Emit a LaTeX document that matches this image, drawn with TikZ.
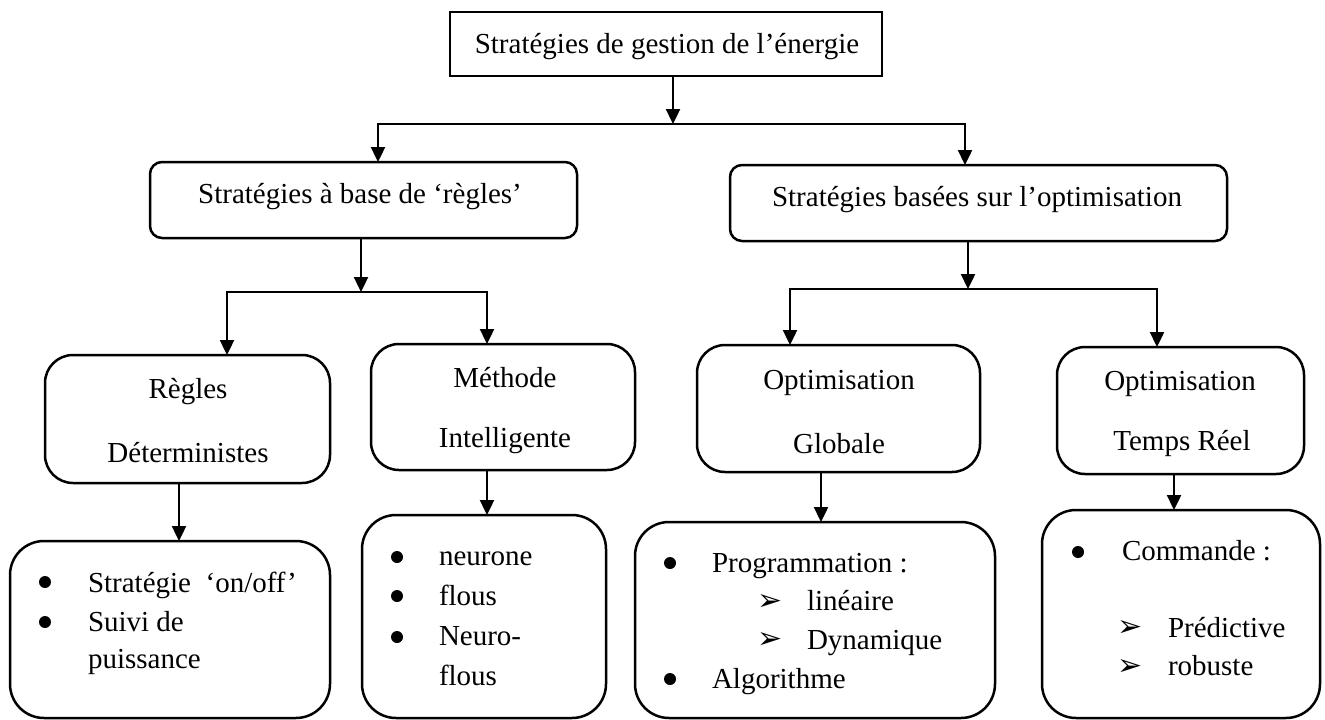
\documentclass[tikz,border=0pt]{standalone}
\usepackage{fontspec}
\setmainfont{Liberation Serif}[Ligatures={TeX,NoCommon}]
\newfontfamily\dingfont{DejaVu Sans}
\usetikzlibrary{arrows.meta}

\begin{document}
\begin{tikzpicture}[x=1pt,y=-1pt,
  every node/.style={inner sep=0pt,outer sep=0pt},
  wire/.style={line width=2.4pt},
  arr/.style={wire,-{Triangle[length=15pt,width=14pt]}},
  frame/.style={draw,line width=2.5pt,minimum width=#1},
  sqbox/.style={frame=#1,sharp corners},
  box2/.style={frame=#1,rounded corners=12pt},
  box3/.style={frame=#1,rounded corners=28pt},
  box4/.style={frame=#1,rounded corners=34pt},
  lbl/.style={font=\fontsize{29}{35}\selectfont,anchor=base},
  itm/.style={font=\fontsize{29}{35}\selectfont,anchor=base west},
  dot/.style={circle,fill,minimum size=12pt},
  tip/.style={font=\dingfont\fontsize{30}{30}\selectfont,anchor=center}
]
\useasboundingbox (0,0) rectangle (1325,720);

% ---- boxes ----
\node[sqbox=432,minimum height=64] (T)   at (666,44) {};
\node[box2=427,minimum height=76]  (L2a) at (363.5,200) {};
\node[box2=497,minimum height=76]  (L2b) at (978.5,203) {};
\node[box3=285,minimum height=128] (R3a) at (187.5,419) {};
\node[box3=264,minimum height=126] (R3b) at (503,407) {};
\node[box3=283,minimum height=127] (R3c) at (838.5,408.5) {};
\node[box3=247,minimum height=127] (R3d) at (1180.5,410.5) {};
\node[box4=320,minimum height=177] (B1)  at (170,629.5) {};
\node[box4=244,minimum height=203] (B2)  at (484,616.5) {};
\node[box4=360,minimum height=196] (B3)  at (815,620) {};
\node[box4=278,minimum height=208] (B4)  at (1181,614) {};

% ---- box titles ----
\node[lbl] (tT)  at (667,53)  {Stratégies de gestion de l’énergie};
\node[lbl] (tL2a) at (360,203) {Stratégies à base de ‘règles’};
\node[lbl] (tL2b) at (977,206) {Stratégies basées sur l’optimisation};
\node[lbl] (tR3a1) at (188,398) {Règles};
\node[lbl] (tR3a2) at (188,462) {Déterministes};
\node[lbl] (tR3b1) at (505,387) {Méthode};
\node[lbl] (tR3b2) at (505,447) {Intelligente};
\node[lbl] (tR3c1) at (839,389) {Optimisation};
\node[lbl] (tR3c2) at (839,453) {Globale};
\node[lbl] (tR3d1) at (1180,390) {Optimisation};
\node[lbl] (tR3d2) at (1182,450) {Temps Réel};

% ---- list in B1 ----
\node[dot] (d11) at (45,582) {};
\node[dot] (d12) at (45,622) {};
\node[itm] (i11) at (88,592) {Stratégie\ \ ‘on/off’};
\node[itm] (i12) at (88,631) {Suivi de};
\node[itm] (i13) at (88,668) {puissance};

% ---- list in B2 ----
\node[dot] (d21) at (397,557) {};
\node[dot] (d22) at (397,596) {};
\node[dot] (d23) at (397,637) {};
\node[itm] (i21) at (439,565) {neurone};
\node[itm] (i22) at (439,605) {flous};
\node[itm] (i23) at (439,645) {Neuro-};
\node[itm] (i24) at (439,685) {flous};

% ---- list in B3 ----
\node[dot] (d31) at (670,563) {};
\node[dot] (d32) at (670,679) {};
\node[itm] (i31) at (712,572) {Programmation :};
\node[tip] (a31) at (770,602) {➢};
\node[itm] (i32) at (807,610) {linéaire};
\node[tip] (a32) at (770,640) {➢};
\node[itm] (i33) at (807,649) {Dynamique};
\node[itm] (i34) at (712,688) {Algorithme};

% ---- list in B4 ----
\node[dot] (d41) at (1078,552) {};
\node[itm] (i41) at (1122,560) {Commande :};
\node[tip] (a41) at (1130,628) {➢};
\node[itm] (i42) at (1168,637) {Prédictive};
\node[tip] (a42) at (1130,667) {➢};
\node[itm] (i43) at (1168,675) {robuste};

% ---- junction points of the connector buses ----
\coordinate (j0)  at (673,124);
\coordinate (j0l) at (378,124);
\coordinate (j0r) at (965,124);
\coordinate (j1)  at (361,292);
\coordinate (j1l) at (227,292);
\coordinate (j1r) at (487,292);
\coordinate (j2)  at (968,289);
\coordinate (j2l) at (790,289);
\coordinate (j2r) at (1157,289);
\coordinate (k1) at (179,0);
\coordinate (k2) at (487,0);
\coordinate (k3) at (821,0);
\coordinate (k4) at (1174,0);

% ---- connectors ----
\draw[arr] (T.south -| j0) -- (j0);
\draw[arr] (j0) -| (j0l |- L2a.north);
\draw[arr] (j0) -| (j0r |- L2b.north);

\draw[arr] (L2a.south -| j1) -- (j1);
\draw[arr] (j1) -| (j1l |- R3a.north);
\draw[arr] (j1) -| (j1r |- R3b.north);

\draw[arr] (L2b.south -| j2) -- (j2);
\draw[arr] (j2) -| (j2l |- R3c.north);
\draw[arr] (j2) -| (j2r |- R3d.north);

\draw[arr] (R3a.south -| k1) -- (B1.north -| k1);
\draw[arr] (R3b.south -| k2) -- (B2.north -| k2);
\draw[arr] (R3c.south -| k3) -- (B3.north -| k3);
\draw[arr] (R3d.south -| k4) -- (B4.north -| k4);
\end{tikzpicture}
\end{document}
